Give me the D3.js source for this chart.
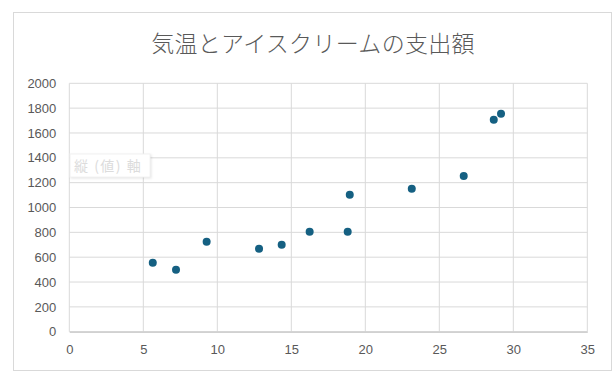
<!DOCTYPE html>
<html>
<head>
<meta charset="utf-8">
<script src="https://cdn.jsdelivr.net/npm/d3@7"></script>
<style>
  body { margin: 0; background: #fff; }
  svg text { font-family: "Liberation Sans Narrow", "Liberation Sans", Arial, sans-serif; }
</style>
</head>
<body>
<script>
var title = "気温とアイスクリームの支出額";
var axisPlaceholder = "縦 (値) 軸";
var temps = [5.64, 7.21, 9.28, 12.82, 14.35, 16.24, 18.81, 18.95, 23.14, 26.65, 28.68, 29.17];
var spending = [555, 499, 724, 668, 700, 805, 805, 1103, 1151, 1253, 1706, 1754];
var xTicks = [0, 5, 10, 15, 20, 25, 30, 35];
var yTicks = [0, 200, 400, 600, 800, 1000, 1200, 1400, 1600, 1800, 2000];

var width = 616;
var height = 388;
var paddingLeft = 69.3;
var paddingRight = 616 - 587.3;
var paddingTop = 83.3;
var paddingBottom = 388 - 331.7;

var svg = d3.select("body")
  .append("svg")
  .attr("width", width)
  .attr("height", height);

// chart frame
svg.append("rect")
  .attr("x", 13.5).attr("y", 12.5)
  .attr("width", 598).attr("height", 358)
  .attr("fill", "#fff")
  .attr("stroke", "#d9d9d9");

svg.append("text")
  .attr("x", 313).attr("y", 52)
  .attr("text-anchor", "middle")
  .style("font-family", "'Noto Sans CJK JP', sans-serif")
  .style("font-weight", 300)
  .style("font-size", "23px")
  .style("letter-spacing", "0.3px")
  .attr("fill", "#595959")
  .text(title);

var xScale = d3.scaleLinear()
  .domain([0, 35])
  .range([paddingLeft, width - paddingRight]);

var yScale = d3.scaleLinear()
  .domain([0, 2000])
  .range([height - paddingBottom, paddingTop]);

// grid
svg.append("g")
  .selectAll("line")
  .data(xTicks)
  .enter()
  .append("line")
  .attr("x1", d => xScale(d)).attr("x2", d => xScale(d))
  .attr("y1", yScale(0)).attr("y2", yScale(2000))
  .attr("stroke", "#d9d9d9");

svg.append("g")
  .selectAll("line")
  .data(yTicks)
  .enter()
  .append("line")
  .attr("x1", xScale(0)).attr("x2", xScale(35))
  .attr("y1", d => yScale(d)).attr("y2", d => yScale(d))
  .attr("stroke", "#d9d9d9");

var xAxis = d3.axisBottom(xScale).tickValues(xTicks).tickSize(0).tickPadding(13).tickFormat(d3.format("d"));
var yAxis = d3.axisLeft(yScale).tickValues(yTicks).tickSize(0).tickPadding(13).tickFormat(d3.format("d"));

var gx = svg.append("g")
  .attr("id", "x-axis")
  .attr("transform", "translate(0, " + yScale(0) + ")")
  .call(xAxis);
gx.select(".domain").attr("stroke", "#bfbfbf");

var gy = svg.append("g")
  .attr("id", "y-axis")
  .attr("transform", "translate(" + xScale(0) + ", 0)")
  .call(yAxis);
gy.select(".domain").remove();

svg.selectAll(".tick text")
  .attr("fill", "#595959")
  .style("font-size", "13px");

// faint axis-title placeholder
var ph = svg.append("g");
ph.append("rect")
  .attr("x", 70).attr("y", 154)
  .attr("width", 80).attr("height", 23)
  .attr("fill", "#fff")
  .attr("stroke", "#f2f2f2")
  .style("filter", "drop-shadow(1px 1px 1px rgba(0,0,0,0.1))");
ph.append("text")
  .attr("x", 74).attr("y", 171)
  .style("font-family", "'Noto Sans CJK JP', sans-serif")
  .style("font-size", "14px")
  .style("letter-spacing", "1.5px")
  .attr("fill", "#dcdcdc")
  .text(axisPlaceholder);

svg.append("g")
  .selectAll("circle")
  .data(temps)
  .enter()
  .append("circle")
  .attr("cx", d => xScale(d))
  .attr("cy", (d, i) => yScale(spending[i]))
  .attr("r", 4)
  .attr("fill", "#156082");
</script>
</body>
</html>
